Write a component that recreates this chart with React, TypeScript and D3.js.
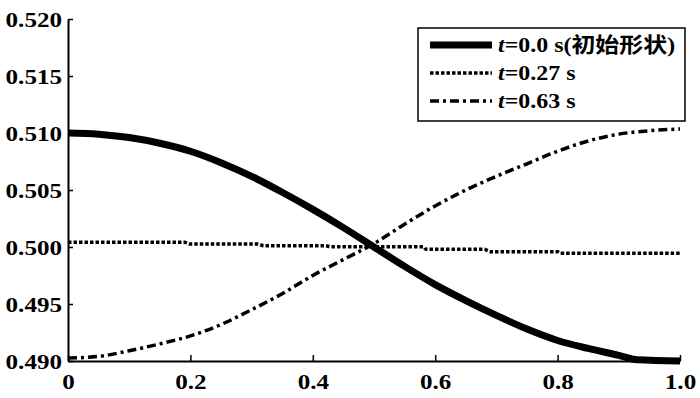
import React, { useEffect, useRef } from 'react';
import * as d3 from 'd3';

// x positions (dimensionless length) and values
const xInit = [0, 0.05, 0.1, 0.15, 0.2, 0.25, 0.3, 0.35, 0.4, 0.45, 0.5, 0.55, 0.6, 0.65, 0.7, 0.75, 0.8, 0.85, 0.9, 0.93, 1.0];
const yInit = [0.5100, 0.5099, 0.5096, 0.5091, 0.5084, 0.5074, 0.5062, 0.5048, 0.5033, 0.5017, 0.5000, 0.4983, 0.4967, 0.4953, 0.4940, 0.4928, 0.4918, 0.4911, 0.4905, 0.4901, 0.4900];

const xMid = [0, 0.19, 0.2, 0.31, 0.32, 0.42, 0.43, 0.58, 0.585, 0.68, 0.69, 0.8, 0.805, 1.0];
const yMid = [0.50041, 0.50041, 0.50026, 0.50026, 0.50011, 0.50011, 0.50003, 0.50003, 0.4998, 0.4998, 0.49959, 0.49959, 0.49945, 0.49945];

const xLate = [0, 0.05, 0.1, 0.15, 0.2, 0.25, 0.3, 0.35, 0.4, 0.45, 0.5, 0.55, 0.6, 0.65, 0.7, 0.75, 0.8, 0.85, 0.9, 0.95, 1.0];
const yLate = [0.49026, 0.4904, 0.4909, 0.4915, 0.4922, 0.4932, 0.4945, 0.4959, 0.4975, 0.4989, 0.5003, 0.5020, 0.5036, 0.5050, 0.5062, 0.5073, 0.5084, 0.5093, 0.5099, 0.5102, 0.51035];

const legendLabels = ['=0.0 s(初始形状)', '=0.27 s', '=0.63 s'];
const yTicks = [0.490, 0.495, 0.500, 0.505, 0.510, 0.515, 0.520];
const xTicks = [0, 0.2, 0.4, 0.6, 0.8, 1.0];

const FONT = "'Liberation Serif', 'Noto Sans CJK SC', serif";
const STRETCH = 1.14;

export default function App() {
  const svgRef = useRef<SVGSVGElement>(null);

  useEffect(() => {
    if (!svgRef.current) return;
    const svg = d3.select(svgRef.current);
    svg.selectAll('*').remove();

    const left = 68, right = 680, top = 19, bottom = 361;
    const x = d3.scaleLinear().domain([0, 1]).range([left, right]);
    const y = d3.scaleLinear().domain([0.49, 0.52]).range([bottom, top]);

    const series = [
      { xs: xInit, ys: yInit, width: 7, dash: null as string | null },
      { xs: xMid, ys: yMid, width: 3.5, dash: '3.5,2' },
      { xs: xLate, ys: yLate, width: 3.5, dash: '9,4,3,4' },
    ];

    const line = d3.line<[number, number]>()
      .x(d => x(d[0]))
      .y(d => y(d[1]))
      .curve(d3.curveMonotoneX);

    series.forEach(s => {
      const pts = s.xs.map((v, i) => [v, s.ys[i]] as [number, number]);
      svg.append('path')
        .attr('d', line(pts))
        .attr('fill', 'none')
        .attr('stroke', '#000')
        .attr('stroke-width', s.width)
        .attr('stroke-linejoin', 'round')
        .attr('stroke-dasharray', s.dash);
    });

    // axes
    const yAxis = svg.append('g')
      .attr('transform', `translate(${left},0)`)
      .call(d3.axisLeft(y).tickValues(yTicks).tickSizeInner(-5).tickSizeOuter(0).tickFormat(d3.format('.3f')));
    const xAxis = svg.append('g')
      .attr('transform', `translate(0,${bottom})`)
      .call(d3.axisBottom(x).tickValues(xTicks).tickSizeInner(-6).tickSizeOuter(0)
        .tickFormat(d => (d === 0 ? '0' : d3.format('.1f')(d as number))));

    [yAxis, xAxis].forEach(g => {
      g.attr('font-family', null).attr('font-size', null);
      g.select('.domain').attr('stroke', '#000').attr('stroke-width', 2);
      g.selectAll('.tick line').attr('stroke', '#000').attr('stroke-width', 1.5);
      g.selectAll('.tick text')
        .attr('fill', '#000')
        .attr('font-family', FONT)
        .attr('font-weight', 'bold')
        .attr('font-size', 22);
    });
    yAxis.selectAll('.tick text')
      .attr('x', 0).attr('dy', '0.35em')
      .attr('transform', `translate(-6,0) scale(${STRETCH},1)`);
    xAxis.selectAll('.tick text')
      .attr('y', 0).attr('dy', 0)
      .attr('transform', `translate(0,28) scale(${STRETCH},1)`);

    // legend
    const lg = svg.append('g');
    lg.append('rect')
      .attr('x', 418).attr('y', 28).attr('width', 267).attr('height', 93)
      .attr('fill', '#fff').attr('stroke', '#000').attr('stroke-width', 1.5);
    const rowY = [45, 73, 101];
    series.forEach((s, i) => {
      lg.append('line')
        .attr('x1', 430).attr('x2', 492).attr('y1', rowY[i]).attr('y2', rowY[i])
        .attr('stroke', '#000').attr('stroke-width', s.width)
        .attr('stroke-dasharray', s.dash);
      const t = lg.append('text')
        .attr('transform', `translate(498,${rowY[i] + 7}) scale(${STRETCH},1)`)
        .attr('font-family', FONT)
        .attr('font-weight', 'bold')
        .attr('font-size', 21);
      t.append('tspan').attr('font-style', 'italic').text('t');
      t.append('tspan').text(legendLabels[i]);
    });
  }, []);

  return (
    <svg ref={svgRef} width={700} height={398}
      style={{ position: 'fixed', left: 0, top: 0, background: '#fff' }} />
  );
}
